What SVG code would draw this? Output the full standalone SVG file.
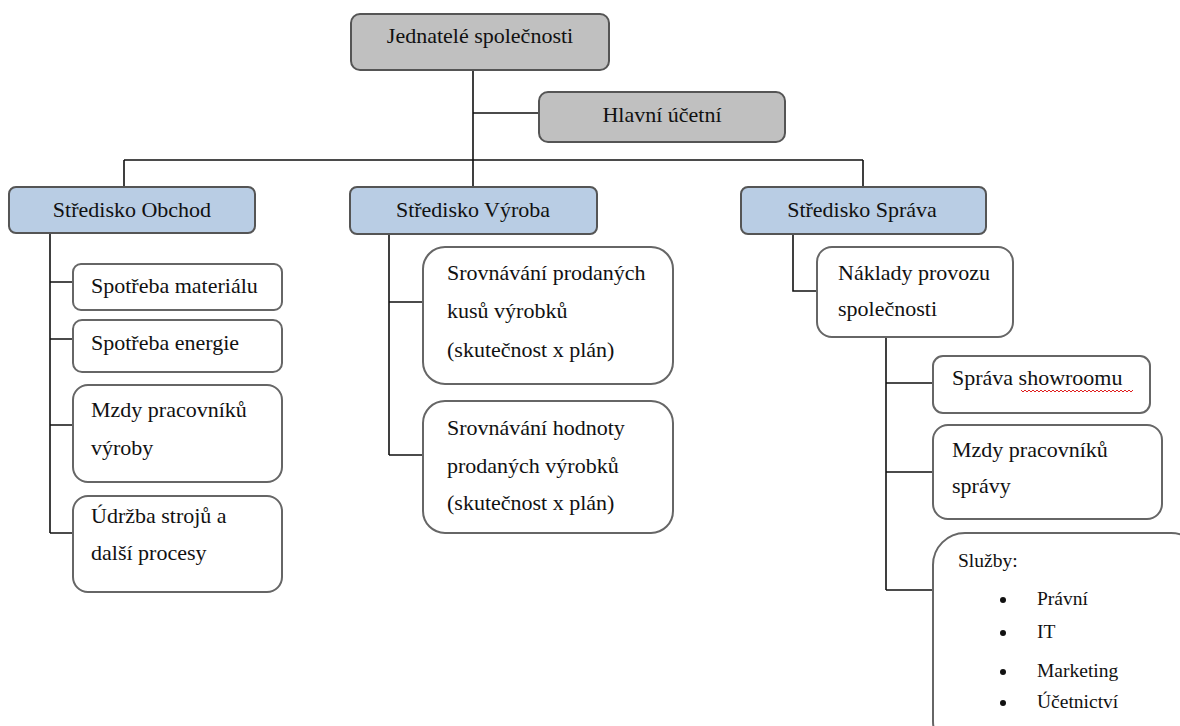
<svg xmlns="http://www.w3.org/2000/svg" width="1180" height="726" viewBox="0 0 1180 726">
<style>
text{font-family:"Liberation Serif","Times New Roman",serif;font-size:22px;fill:#111}
.c{text-anchor:middle}
.s{font-size:19.5px}
.grey{fill:#c0c0c0;stroke:#555;stroke-width:2}
.blue{fill:#b9cde4;stroke:#555;stroke-width:2}
.white{fill:#fff;stroke:#666;stroke-width:2}
.conn{fill:none;stroke:#111;stroke-width:1.6}
</style>
<rect width="1180" height="726" fill="#fff"/>
<g id="connectors" class="conn">
<path d="M473 70V188M473 113H539M124 160H863M124 160V188M863 160V188"/>
<path d="M50 233V533M50 282H73M50 339H73M50 425H73M50 533H73"/>
<path d="M389 234V455M389 302H423M389 455H423"/>
<path d="M793 234V291H817"/>
<path d="M886 337V590M886 383H933M886 472H933M886 590H933"/>
</g>
<g id="n-jednatele"><rect class="grey" x="351" y="14" width="258" height="56" rx="9"/><text class="c" x="480" y="43">Jednatelé společnosti</text></g>
<g id="n-hlavni"><rect class="grey" x="539" y="92" width="246" height="50" rx="9"/><text class="c" x="662" y="122">Hlavní účetní</text></g>
<g id="n-obchod"><rect class="blue" x="9" y="187" width="246" height="46" rx="7"/><text class="c" x="132" y="217">Středisko Obchod</text></g>
<g id="n-vyroba"><rect class="blue" x="350" y="187" width="247" height="47" rx="7"/><text class="c" x="473" y="217">Středisko Výroba</text></g>
<g id="n-sprava"><rect class="blue" x="741" y="187" width="245" height="47" rx="7"/><text class="c" x="862" y="217">Středisko Správa</text></g>
<g id="n-material"><rect class="white" x="73" y="264" width="209" height="46" rx="8"/><text x="91" y="293">Spotřeba materiálu</text></g>
<g id="n-energie"><rect class="white" x="73" y="320" width="209" height="52" rx="9"/><text x="91" y="350">Spotřeba energie</text></g>
<g id="n-mzdy-vyroby"><rect class="white" x="73" y="385" width="209" height="97" rx="15"/><text x="91" y="417">Mzdy pracovníků</text><text x="91" y="455">výroby</text></g>
<g id="n-udrzba"><rect class="white" x="73" y="496" width="209" height="96" rx="15"/><text x="91" y="523">Údržba strojů a</text><text x="91" y="560">další procesy</text></g>
<g id="n-srovnani-kusu"><rect class="white" x="423" y="247" width="250" height="137" rx="22"/><text x="447" y="280">Srovnávání prodaných</text><text x="447" y="318">kusů výrobků</text><text x="447" y="357">(skutečnost x plán)</text></g>
<g id="n-srovnani-hodnoty"><rect class="white" x="423" y="401" width="250" height="132" rx="22"/><text x="447" y="435">Srovnávání hodnoty</text><text x="447" y="473">prodaných výrobků</text><text x="447" y="510">(skutečnost x plán)</text></g>
<g id="n-naklady"><rect class="white" x="817" y="247" width="196" height="90" rx="15"/><text x="838" y="280">Náklady provozu</text><text x="838" y="316">společnosti</text></g>
<g id="n-showroom"><rect class="white" x="933" y="356" width="217" height="57" rx="10"/><text x="952" y="385">Správa showroomu</text>
<path d="M1021 390 l2 2 2-2 2 2 2-2 2 2 2-2 2 2 2-2 2 2 2-2 2 2 2-2 2 2 2-2 2 2 2-2 2 2 2-2 2 2 2-2 2 2 2-2 2 2 2-2 2 2 2-2 2 2 2-2 2 2 2-2 2 2 2-2 2 2 2-2 2 2 2-2 2 2 2-2 2 2 2-2 2 2 2-2 2 2 2-2 2 2 2-2 2 2 2-2 2 2 2-2 2 2 2-2 2 2 2-2 2 2 2-2" fill="none" stroke="#e02020" stroke-width="1"/></g>
<g id="n-mzdy-spravy"><rect class="white" x="933" y="425" width="229" height="94" rx="15"/><text x="952" y="457">Mzdy pracovníků</text><text x="952" y="493">správy</text></g>
<g id="n-sluzby"><rect class="white" x="933" y="533" width="270" height="220" rx="32"/>
<text class="s" x="958" y="567">Služby:</text>
<g fill="#111"><circle cx="1003" cy="600" r="3"/><circle cx="1003" cy="633" r="3"/><circle cx="1003" cy="672" r="3"/><circle cx="1003" cy="703" r="3"/></g>
<text class="s" x="1037" y="605">Právní</text><text class="s" x="1037" y="638">IT</text><text class="s" x="1037" y="677">Marketing</text><text class="s" x="1037" y="708">Účetnictví</text></g>
</svg>
